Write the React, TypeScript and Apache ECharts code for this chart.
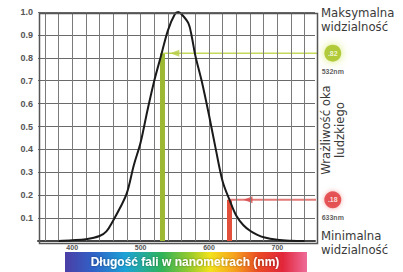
import React, { useEffect, useRef } from "react";
import * as echarts from "echarts";

const wavelengths = [380, 400, 420, 440, 450, 460, 470, 480, 490, 500, 510, 520, 530, 540, 550, 555, 560, 570, 575, 580, 590, 600, 610, 620, 630, 640, 650, 660, 670, 680, 700, 720, 740];
const sensitivity = [0, 0.003, 0.008, 0.022, 0.042, 0.09, 0.145, 0.21, 0.33, 0.43, 0.57, 0.7, 0.81, 0.92, 0.99, 1.0, 0.99, 0.95, 0.89, 0.81, 0.69, 0.55, 0.4, 0.26, 0.18, 0.11, 0.07, 0.045, 0.028, 0.016, 0.005, 0.001, 0];
const xTickLabels = [400, 500, 600, 700];
const xGridLines = [360, 380, 400, 420, 440, 460, 480, 500, 520, 540, 560, 580, 600, 620, 640, 660, 680, 700, 720, 740];
const yTickLabels = ["0.1", "0.2", "0.3", "0.4", "0.5", "0.6", "0.7", "0.8", "0.9", "1.0"];

const greenWave = 532;
const greenValue = 0.82;
const greenLabel = ".82";
const greenNm = "532nm";
const redWave = 630;
const redValue = 0.18;
const redLabel = ".18";
const redNm = "633nm";
const markerX = 781;

const xMin = 350;
const xMax = 755;

export default function App() {
  const ref = useRef<HTMLDivElement>(null);
  useEffect(() => {
    if (!ref.current) return;
    const chart = echarts.init(ref.current, null, { renderer: "svg" });
    const curve = wavelengths.map((w, i) => [w, sensitivity[i]]);
    const green = "#9db833";
    const red = "#e2503c";
    const textFont = "13px 'DejaVu Sans Condensed', 'DejaVu Sans', sans-serif";
    chart.setOption({
      animation: false,
      backgroundColor: "#ffffff",
      grid: { left: 38, right: 88, top: 12, bottom: 31, show: false },
      xAxis: {
        type: "value",
        min: xMin,
        max: xMax,
        interval: 10,
        axisLine: { show: true, lineStyle: { color: "#444", width: 2 } },
        axisTick: { show: false },
        axisLabel: {
          showMinLabel: false,
          showMaxLabel: false,
          hideOverlap: false,
          interval: 0,
          formatter: (v: number) => (xTickLabels.includes(v) ? String(v) : ""),
          fontSize: 7,
          fontWeight: "bold",
          color: "#555",
          margin: 3,
          fontFamily: "Liberation Sans",
        },
        splitLine: { show: false },
      },
      yAxis: {
        type: "value",
        min: 0,
        max: 1,
        interval: 0.1,
        axisLine: { show: false },
        axisTick: { show: false },
        axisLabel: {
          formatter: (v: number) => {
            const s = v.toFixed(1);
            return yTickLabels.includes(s) ? s : "";
          },
          fontSize: 9,
          fontWeight: "bold",
          color: "#555",
          margin: 5,
          fontFamily: "Liberation Sans",
        },
        splitLine: { show: true, lineStyle: { color: "#6a6a6a", width: 1 } },
      },
      series: [
        {
          type: "line",
          data: [[xMin, 0], [xMax, 0]],
          symbol: "none",
          lineStyle: { width: 0 },
          z: 1,
          markLine: {
            silent: true,
            symbol: ["none", "none"],
            label: { show: false },
            lineStyle: { color: "#7a7a7a", width: 1, type: "solid", opacity: 1 },
            data: xGridLines.map((v) => ({ xAxis: v })),
          },
        },
        {
          type: "line",
          data: [[greenWave, 0], [greenWave, greenValue]],
          symbol: "none",
          lineStyle: { color: green, width: 5 },
          z: 3,
        },
        {
          type: "line",
          data: [[greenWave, greenValue], [markerX, greenValue]],
          symbol: "none",
          clip: false,
          lineStyle: { color: "#c5d95a", width: 1.5 },
          z: 3,
        },
        {
          type: "line",
          data: [[redWave, 0], [redWave, redValue]],
          symbol: "none",
          lineStyle: { color: red, width: 5 },
          z: 3,
        },
        {
          type: "line",
          data: [[redWave, redValue], [markerX, redValue]],
          symbol: "none",
          clip: false,
          lineStyle: { color: "#e27a78", width: 2 },
          z: 3,
        },
        {
          type: "line",
          data: curve,
          smooth: 0.35,
          symbol: "none",
          lineStyle: { color: "#1a1a1a", width: 2 },
          z: 5,
        },
        {
          type: "scatter",
          symbol: "triangle",
          symbolRotate: 90,
          symbolSize: [7, 9],
          data: [[550, greenValue]],
          itemStyle: { color: "#b5cc45" },
          z: 4,
        },
        {
          type: "scatter",
          symbol: "triangle",
          symbolRotate: 90,
          symbolSize: [7, 9],
          data: [[657, redValue]],
          itemStyle: { color: "#d84848" },
          z: 4,
        },
        {
          type: "scatter",
          clip: false,
          symbol: "circle",
          symbolSize: 17,
          data: [[markerX, greenValue]],
          itemStyle: { color: "#a2bf1c", shadowBlur: 8, shadowColor: "rgba(200,230,60,0.9)" },
          label: { show: true, position: "inside", formatter: greenLabel, color: "#fff", fontSize: 7, fontWeight: "bold" },
          z: 6,
        },
        {
          type: "scatter",
          clip: false,
          symbol: "circle",
          symbolSize: 17,
          data: [[markerX, redValue]],
          itemStyle: { color: "#e03236", shadowBlur: 5, shadowColor: "rgba(240,120,120,0.8)" },
          label: { show: true, position: "inside", formatter: redLabel, color: "#fff", fontSize: 7, fontWeight: "bold" },
          z: 6,
        },
        {
          type: "scatter",
          clip: false,
          symbolSize: 0,
          data: [[markerX, greenValue]],
          label: { show: true, position: "inside", offset: [0, 18], formatter: greenNm, color: "#333", fontSize: 7, fontWeight: "bold", fontFamily: "Liberation Sans" },
          z: 6,
        },
        {
          type: "scatter",
          clip: false,
          symbolSize: 0,
          data: [[markerX, redValue]],
          label: { show: true, position: "inside", offset: [0, 18], formatter: redNm, color: "#333", fontSize: 7, fontWeight: "bold", fontFamily: "Liberation Sans" },
          z: 6,
        },
      ],
      graphic: [
        {
          type: "rect",
          left: 37,
          top: 11,
          z: 10,
          shape: { width: 278, height: 230 },
          style: { fill: "none", stroke: "#555", lineWidth: 1.5 },
        },
        {
          type: "text",
          left: 321,
          top: 5,
          style: { text: "Maksymalna\nwidzialność", fill: "#3a3a3a", font: textFont, lineHeight: 14 },
        },
        {
          type: "text",
          x: 332,
          y: 130,
          rotation: Math.PI / 2,
          style: { text: "Wrażliwość oka\nludzkiego", fill: "#3a3a3a", font: textFont, lineHeight: 14, align: "center", verticalAlign: "middle" },
        },
        {
          type: "text",
          left: 321,
          top: 228,
          style: { text: "Minimalna\nwidzialność", fill: "#3a3a3a", font: textFont, lineHeight: 14 },
        },
        {
          type: "rect",
          left: 65,
          top: 252,
          shape: { width: 242, height: 20 },
          style: {
            fill: new echarts.graphic.LinearGradient(0, 0, 1, 0, [
              { offset: 0, color: "#4b3fa6" },
              { offset: 0.12, color: "#2f62c8" },
              { offset: 0.25, color: "#1ba3d6" },
              { offset: 0.4, color: "#2fb35a" },
              { offset: 0.52, color: "#9ccc2c" },
              { offset: 0.6, color: "#f3e21c" },
              { offset: 0.7, color: "#f6a21e" },
              { offset: 0.8, color: "#ea4a24" },
              { offset: 0.9, color: "#e2263a" },
              { offset: 1, color: "#ee6c9a" },
            ]),
          },
        },
        {
          type: "text",
          x: 185,
          y: 262,
          style: {
            text: "Długość fali w nanometrach (nm)",
            fill: "#ffffff",
            font: "bold 12px 'Liberation Sans', sans-serif",
            align: "center",
            verticalAlign: "middle",
            textShadowColor: "rgba(0,0,0,0.4)",
            textShadowBlur: 2,
          },
        },
      ],
    });
    return () => chart.dispose();
  }, []);
  return <div ref={ref} style={{ position: "fixed", left: 0, top: 0, width: 403, height: 272 }} />;
}
